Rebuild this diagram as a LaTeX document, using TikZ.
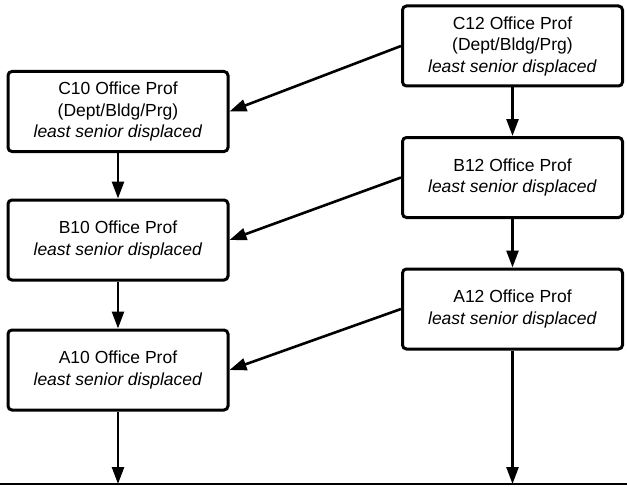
\documentclass[tikz,border=0pt]{standalone}
\usepackage{fontspec}
\setmainfont{Liberation Sans}
\usetikzlibrary{arrows.meta}

\def\lw{3pt}

\begin{document}
\begin{tikzpicture}[x=1pt, y=-1pt, line width=2.6pt, >={Triangle[length=17pt,width=12pt]},
	every node/.style={rectangle,draw,rounded corners=4pt,line width=\lw,minimum width=220pt,minimum height=80pt,align=center,inner sep=0,font=\fontsize{17.5}{21.5}\selectfont}]
		\useasboundingbox (0,0) rectangle (627,487);
		
		\node (C12) at (512.5,46) {C12 Office Prof\\(Dept/Bldg/Prg)\\\textit{least senior displaced}};
		\node (C10) at (118,111.5) {C10 Office Prof\\(Dept/Bldg/Prg)\\\textit{least senior displaced}};
		\node (B12) at (512.5,177.5) {B12 Office Prof\\\textit{least senior displaced}};
		\node (B10) at (118,240) {B10 Office Prof\\\textit{least senior displaced}};
		\node (A12) at (512.5,309) {A12 Office Prof\\\textit{least senior displaced}};
		\node (A10) at (118,370) {A10 Office Prof\\\textit{least senior displaced}};
		
		\coordinate (L) at (0,484);
		\coordinate (R) at (627,484);
		\coordinate (AE) at (118,484);
		\coordinate (AF) at (512.5,484);
		
		\draw[-] (L) to (R);
		
		\draw[->] (C12.west) to (C10.east);
		\draw[->] (B12.west) to (B10.east);
		\draw[->] (A12.west) to (A10.east);
		
		\draw[->] (C12) to (B12);
		\draw[->] (B12) to (A12);
		\draw[->] (A12) to (AF);
		\draw[->] (C10) to (B10);
		\draw[->] (B10) to (A10);
		\draw[->] (A10) to (AE);
		
	\end{tikzpicture}
\end{document}
